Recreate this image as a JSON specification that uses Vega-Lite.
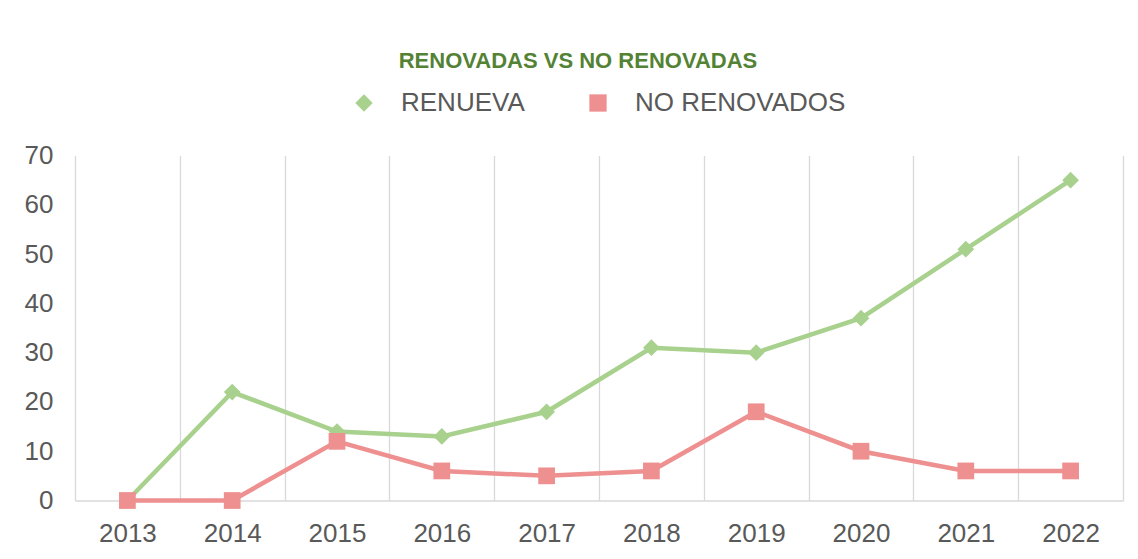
{
  "$schema": "https://vega.github.io/schema/vega-lite/v6.json",
  "autosize": {"type": "none"},
  "width": 1048,
  "height": 345,
  "padding": {"left": 75, "top": 155.5, "right": 15, "bottom": 58.5},
  "background": "white",
  "title": {
    "text": "RENOVADAS VS NO RENOVADAS",
    "frame": "group",
    "anchor": "middle",
    "orient": "top",
    "baseline": "alphabetic",
    "offset": 0,
    "dx": -21,
    "font": "Liberation Sans",
    "fontSize": 22,
    "fontWeight": "bold",
    "color": "#548235"
  },
  "data": {
    "values": [
      {"year": "2013", "series": "RENUEVA", "value": 0},
      {"year": "2014", "series": "RENUEVA", "value": 22},
      {"year": "2015", "series": "RENUEVA", "value": 14},
      {"year": "2016", "series": "RENUEVA", "value": 13},
      {"year": "2017", "series": "RENUEVA", "value": 18},
      {"year": "2018", "series": "RENUEVA", "value": 31},
      {"year": "2019", "series": "RENUEVA", "value": 30},
      {"year": "2020", "series": "RENUEVA", "value": 37},
      {"year": "2021", "series": "RENUEVA", "value": 51},
      {"year": "2022", "series": "RENUEVA", "value": 65},
      {"year": "2013", "series": "NO RENOVADOS", "value": 0},
      {"year": "2014", "series": "NO RENOVADOS", "value": 0},
      {"year": "2015", "series": "NO RENOVADOS", "value": 12},
      {"year": "2016", "series": "NO RENOVADOS", "value": 6},
      {"year": "2017", "series": "NO RENOVADOS", "value": 5},
      {"year": "2018", "series": "NO RENOVADOS", "value": 6},
      {"year": "2019", "series": "NO RENOVADOS", "value": 18},
      {"year": "2020", "series": "NO RENOVADOS", "value": 10},
      {"year": "2021", "series": "NO RENOVADOS", "value": 6},
      {"year": "2022", "series": "NO RENOVADOS", "value": 6}
    ]
  },
  "encoding": {
    "x": {
      "field": "year",
      "type": "ordinal",
      "scale": {"type": "band", "paddingInner": 0, "paddingOuter": 0},
      "axis": {
        "title": null,
        "labelAngle": 0,
        "grid": true,
        "tickBand": "extent",
        "gridColor": "#D9D9D9",
        "gridWidth": 1.3,
        "domainColor": "#D9D9D9",
        "domainWidth": 1.3,
        "ticks": false,
        "labelPadding": 20,
        "labelFont": "Liberation Sans",
        "labelFontSize": 26,
        "labelColor": "#595959"
      }
    },
    "y": {
      "field": "value",
      "type": "quantitative",
      "scale": {"domain": [0, 70], "nice": false, "zero": true},
      "axis": {
        "title": null,
        "values": [0, 10, 20, 30, 40, 50, 60, 70],
        "grid": false,
        "domain": false,
        "ticks": false,
        "labelPadding": 22,
        "labelFont": "Liberation Sans",
        "labelFontSize": 26,
        "labelColor": "#595959"
      }
    },
    "color": {
      "field": "series",
      "type": "nominal",
      "scale": {"domain": ["RENUEVA", "NO RENOVADOS"], "range": ["#A9D18E", "#EE9090"]},
      "legend": {
        "orient": "none",
        "legendX": 276,
        "legendY": -65.5,
        "direction": "horizontal",
        "title": null
      }
    }
  },
  "layer": [
    {
      "mark": {"type": "line", "strokeWidth": 4.5}
    },
    {
      "mark": {"type": "point", "filled": true, "size": 280, "opacity": 1},
      "encoding": {
        "shape": {
          "field": "series",
          "type": "nominal",
          "scale": {"domain": ["RENUEVA", "NO RENOVADOS"], "range": ["diamond", "square"]},
          "legend": null
        }
      }
    }
  ],
  "config": {
    "view": {"stroke": null},
    "legend": {
      "symbolSize": 300,
      "symbolStrokeWidth": 0,
      "symbolOpacity": 1,
      "labelFont": "Liberation Sans",
      "labelFontSize": 26,
      "labelColor": "#595959",
      "labelOffset": 24,
      "columnPadding": 60,
      "padding": 0,
      "labelLimit": 400
    }
  }
}
